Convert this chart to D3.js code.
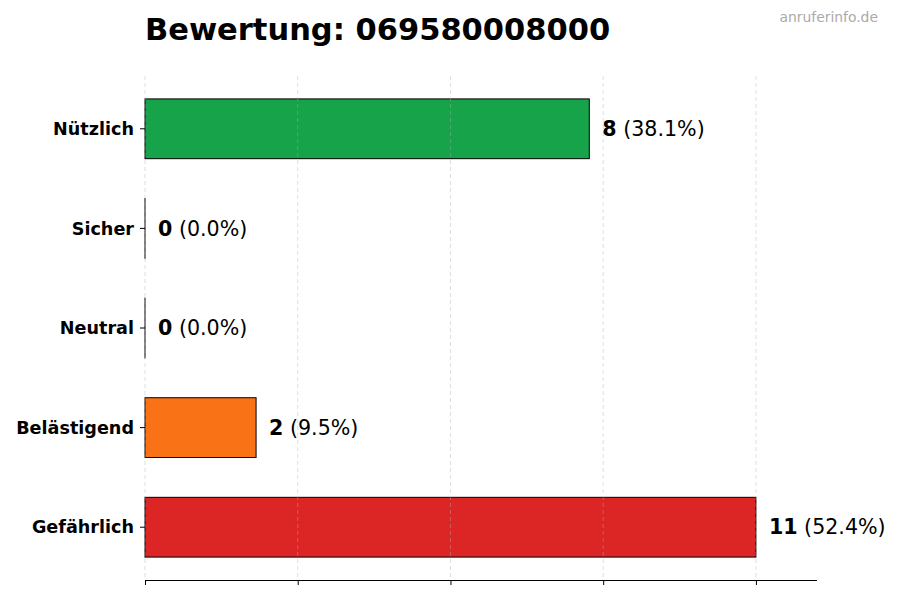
<!DOCTYPE html>
<html><head><meta charset="utf-8">
<script src="https://cdn.jsdelivr.net/npm/d3@7"></script>
<style>body{margin:0;background:#fff}svg{font-family:"DejaVu Sans",sans-serif}</style>
</head><body><svg id="c" width="900" height="600"></svg>
<script>
const categories = ["Nützlich","Sicher","Neutral","Belästigend","Gefährlich"];
const counts = [8,0,0,2,11];
const percents = ["38.1%","0.0%","0.0%","9.5%","52.4%"];
const colors = ["#16a34a","#22c55e","#9ca3af","#f97316","#dc2626"];
const title = "Bewertung: 069580008000";

const svg = d3.select("#c");
const L=145, R=817, T=76, B=580;
const maxV = d3.max(counts);
const x = d3.scaleLinear().domain([0, maxV*1.1]).range([L,R]);
const y = d3.scaleLinear().domain([-0.53, categories.length-1+0.53]).range([T,B]);
const step = y(1)-y(0);
const bh = step*0.6;
const ticks = [0,0.25,0.5,0.75,1].map(f=>f*maxV);

// bars
svg.append("g").selectAll("rect").data(categories).join("rect")
  .attr("x", x(0)).attr("y",(d,i)=>y(i)-bh/2)
  .attr("width",(d,i)=>Math.max(0.01, x(counts[i])-x(0))).attr("height",bh)
  .attr("fill",(d,i)=>colors[i])
  .attr("stroke","#000").attr("stroke-width",1);

// grid
svg.append("g").selectAll("line").data(ticks).join("line")
  .attr("x1",d=>x(d)).attr("x2",d=>x(d)).attr("y1",T).attr("y2",B)
  .attr("stroke","#b0b0b0").attr("stroke-opacity",0.5).attr("stroke-dasharray","4,3").attr("stroke-width",0.8);

// x axis
const xa = svg.append("g").attr("transform",`translate(0,${B})`)
  .call(d3.axisBottom(x).tickValues(ticks).tickSize(5).tickFormat(""));
xa.select(".domain").attr("d",`M${L},0.5H${R}`).attr("stroke","#000");

// y axis ticks and labels
const ya = svg.append("g");
ya.selectAll("line").data(categories).join("line")
  .attr("x1",L-5).attr("x2",L).attr("y1",(d,i)=>y(i)).attr("y2",(d,i)=>y(i)).attr("stroke","#000");
ya.selectAll("text").data(categories).join("text")
  .attr("x",L-11).attr("y",(d,i)=>y(i)).attr("dy","0.35em").attr("text-anchor","end")
  .attr("font-size",17.6).attr("font-weight","bold").text(d=>d);

// value labels
const vl = svg.append("g").selectAll("text").data(categories).join("text")
  .attr("x",(d,i)=>x(counts[i])+13).attr("y",(d,i)=>y(i)).attr("dy","0.35em")
  .attr("font-size",20.6);
vl.append("tspan").attr("font-weight","bold").text((d,i)=>counts[i]);
vl.append("tspan").text((d,i)=>" ("+percents[i]+")");

svg.append("text").attr("x",L).attr("y",40).attr("font-size",30.5).attr("font-weight","bold").text(title);
svg.append("text").attr("x",878).attr("y",22).attr("text-anchor","end").attr("font-size",13.9).attr("fill","#aaaaaa").text("anruferinfo.de");
</script></body></html>
